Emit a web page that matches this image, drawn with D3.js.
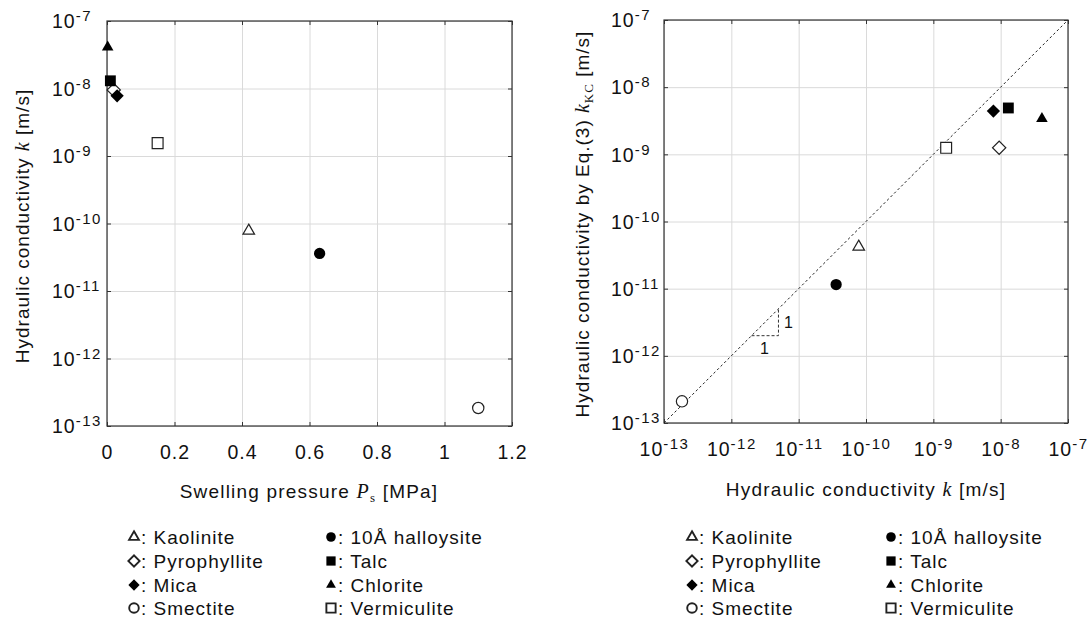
<!DOCTYPE html>
<html>
<head>
<meta charset="utf-8">
<script src="https://cdn.jsdelivr.net/npm/d3@7"></script>
<style>
  body { margin: 0; background: #fff; }
  svg { display: block; }
  text { font-family: "Liberation Sans", Arial, sans-serif; fill: #111; }
  .tick text { font-size: 19.5px; letter-spacing: 1px; }
  .grid line { stroke: #dadada; stroke-width: 1; }
  .grid path { display: none; }
  .ax path { display: none; }
  .ax line { stroke: #333; }
</style>
</head>
<body>
<div id="chart"></div>
<script>
// data
const minerals = ["Kaolinite", "10Å halloysite", "Pyrophyllite", "Talc", "Mica", "Chlorite", "Smectite", "Vermiculite"];
const swellingPressure = [0.42, 0.63, 0.02, 0.01, 0.03, 0.002, 1.10, 0.15];      // MPa
const conductivity = [7.8e-11, 3.6e-11, 9.5e-9, 1.3e-8, 7.8e-9, 4.1e-8, 1.85e-13, 1.55e-9]; // k [m/s]
const conductivityKC = [4.2e-11, 1.15e-11, 1.25e-9, 4.9e-9, 4.4e-9, 3.4e-9, 2.1e-13, 1.25e-9]; // kKC [m/s]
const pressureTicks = [0, 0.2, 0.4, 0.6, 0.8, 1, 1.2];
const logExponents = [-13, -12, -11, -10, -9, -8, -7];
const legendLeftCol = ["Kaolinite", "Pyrophyllite", "Mica", "Smectite"];
const legendRightCol = ["10Å halloysite", "Talc", "Chlorite", "Vermiculite"];
const slopeTri = [Math.pow(10, -11.7), Math.pow(10, -11.3)];

// marker look per mineral
const markers = {
    "Kaolinite":      {type: "triangle", fill: false},
    "10Å halloysite": {type: "circle",   fill: true},
    "Pyrophyllite":   {type: "diamond",  fill: false},
    "Talc":           {type: "square",   fill: true},
    "Mica":           {type: "diamond",  fill: true},
    "Chlorite":       {type: "triangle", fill: true},
    "Smectite":       {type: "circle",   fill: false},
    "Vermiculite":    {type: "square",   fill: false}
};

const W = 1090, H = 620;
const svg = d3.select("#chart").append("svg").attr("width", W).attr("height", H);

function symPath(type, scale) {
    const sizes = {triangle: 58, circle: 100, diamond: 88, square: 118};
    const types = {triangle: d3.symbolTriangle, circle: d3.symbolCircle, diamond: d3.symbolSquare, square: d3.symbolSquare};
    return d3.symbol().type(types[type]).size(sizes[type] * scale * scale)();
}

function drawMarker(g, name, x, y, scale, sw) {
    const m = markers[name];
    const rot = m.type === "diamond" ? " rotate(45)" : "";
    g.append("path")
        .attr("d", symPath(m.type, scale))
        .attr("transform", `translate(${x},${y})${rot}`)
        .attr("fill", m.fill ? "#000" : "#fff")
        .attr("stroke", m.fill ? "none" : "#222")
        .attr("stroke-width", sw);
}

function powLabel(sel) {
    sel.each(function(d) {
        const t = d3.select(this);
        const e = Math.round(Math.log10(d));
        t.text(null);
        t.append("tspan").text("10");
        t.append("tspan").attr("dy", -7).style("font-size", "15px").style("letter-spacing", "1.5px").text(e);
    });
}

function panel(opt) {
    const {left, top, width, height} = opt;
    const g = svg.append("g").attr("transform", `translate(${left},${top})`);
    const x = opt.x.range([0, width]);
    const y = opt.y.range([height, 0]);

    // grid
    g.append("g").attr("class", "grid").attr("transform", `translate(0,${height})`)
        .call(d3.axisBottom(x).tickValues(opt.xTicks).tickSize(-height).tickFormat(""));
    g.append("g").attr("class", "grid")
        .call(d3.axisLeft(y).tickValues(opt.yTicks).tickSize(-width).tickFormat(""));

    // inward ticks on all four sides
    const xb = g.append("g").attr("class", "ax").attr("transform", `translate(0,${height})`)
        .call(d3.axisBottom(x).tickValues(opt.xTicks).tickSizeInner(-4).tickSizeOuter(0));
    g.append("g").attr("class", "ax")
        .call(d3.axisTop(x).tickValues(opt.xTicks).tickSizeInner(-4).tickSizeOuter(0).tickFormat(""));
    const yl = g.append("g").attr("class", "ax")
        .call(d3.axisLeft(y).tickValues(opt.yTicks).tickSizeInner(-4).tickSizeOuter(0));
    g.append("g").attr("class", "ax").attr("transform", `translate(${width},0)`)
        .call(d3.axisRight(y).tickValues(opt.yTicks).tickSizeInner(-4).tickSizeOuter(0).tickFormat(""));

    xb.selectAll("text").attr("dy", 0).attr("y", 33);
    if (opt.xLog) powLabel(xb.selectAll("text"));
    else xb.selectAll("text").text(d => d3.format("~g")(d));

    yl.selectAll("text").attr("x", opt.yLabelX - left).attr("text-anchor", "start").attr("dy", "0.35em");
    powLabel(yl.selectAll("text"));

    g.append("rect").attr("width", width).attr("height", height)
        .attr("fill", "none").attr("stroke", "#333").attr("stroke-width", 1.2);

    return {g, x, y};
}

// ---------- left panel ----------
const L = panel({
    left: 107, top: 21, width: 405, height: 405,
    x: d3.scaleLinear().domain([0, 1.2]),
    y: d3.scaleLog().domain([1e-13, 1e-7]),
    xTicks: pressureTicks,
    yTicks: logExponents.map(e => Math.pow(10, e)),
    yLabelX: 52
});
minerals.forEach((name, i) => {
    drawMarker(L.g, name, L.x(swellingPressure[i]), L.y(conductivity[i]), 1, 1.2);
});

// ---------- right panel ----------
const R = panel({
    left: 664, top: 20, width: 404, height: 403,
    x: d3.scaleLog().domain([1e-13, 1e-7]),
    y: d3.scaleLog().domain([1e-13, 1e-7]),
    xTicks: logExponents.map(e => Math.pow(10, e)),
    yTicks: logExponents.map(e => Math.pow(10, e)),
    xLog: true,
    yLabelX: 611
});
// 1:1 line
R.g.append("line")
    .attr("x1", R.x(1e-13)).attr("y1", R.y(1e-13))
    .attr("x2", R.x(1e-7)).attr("y2", R.y(1e-7))
    .attr("stroke", "#222").attr("stroke-width", 1).attr("stroke-dasharray", "2.5,2.5");
// slope triangle
R.g.append("path")
    .attr("d", `M${R.x(slopeTri[0])},${R.y(slopeTri[0])}H${R.x(slopeTri[1])}V${R.y(slopeTri[1])}`)
    .attr("fill", "none").attr("stroke", "#333").attr("stroke-width", 1).attr("stroke-dasharray", "3,2");
R.g.append("text").attr("x", R.x(slopeTri[0]) + 13).attr("y", R.y(slopeTri[0]) + 18)
    .attr("text-anchor", "middle").style("font-size", "16px").text("1");
R.g.append("text").attr("x", R.x(slopeTri[1]) + 10).attr("y", R.y(Math.sqrt(slopeTri[0] * slopeTri[1])) + 6)
    .attr("text-anchor", "middle").style("font-size", "16px").text("1");
minerals.forEach((name, i) => {
    drawMarker(R.g, name, R.x(conductivity[i]), R.y(conductivityKC[i]), 1, 1.2);
});

// ---------- axis titles ----------
function title(x, y, rotate, parts) {
    const t = svg.append("text")
        .attr("transform", `translate(${x},${y})${rotate ? " rotate(-90)" : ""}`)
        .attr("text-anchor", "middle")
        .style("font-size", "19px").style("letter-spacing", rotate ? "1px" : "1.2px");
    parts.forEach(p => {
        const s = t.append("tspan").text(p.t);
        if (p.it) s.style("font-family", "'Liberation Serif', 'Times New Roman', serif").style("font-style", "italic").style("font-size", "20px");
        if (p.sub) s.style("font-family", "'Liberation Serif', 'Times New Roman', serif").style("font-size", "13px").attr("dy", 4);
        if (p.back) s.attr("dy", -4);
    });
}
title(309, 498, false, [{t: "Swelling pressure "}, {t: "P", it: true}, {t: "s", sub: true}, {t: " [MPa]", back: true}]);
title(866, 496, false, [{t: "Hydraulic conductivity "}, {t: "k", it: true}, {t: " [m/s]"}]);
title(29, 226, true, [{t: "Hydraulic conductivity "}, {t: "k", it: true}, {t: " [m/s]"}]);
title(589, 224, true, [{t: "Hydraulic conductivity by Eq.(3) "}, {t: "k", it: true}, {t: "KC", sub: true}, {t: " [m/s]", back: true}]);

// ---------- legends ----------
function legend(x0, x1) {
    const rows = [537, 561, 585, 608];
    [[legendLeftCol, x0], [legendRightCol, x1]].forEach(([names, mx]) => {
        names.forEach((name, i) => {
            drawMarker(svg, name, mx, rows[i], 0.85, 1.9);
            svg.append("text").attr("x", mx + 7).attr("y", rows[i] + 6.5)
                .style("font-size", "19px").style("letter-spacing", "1px")
                .text(": " + name);
        });
    });
}
legend(134, 331);
legend(692, 891);
</script>
</body>
</html>
